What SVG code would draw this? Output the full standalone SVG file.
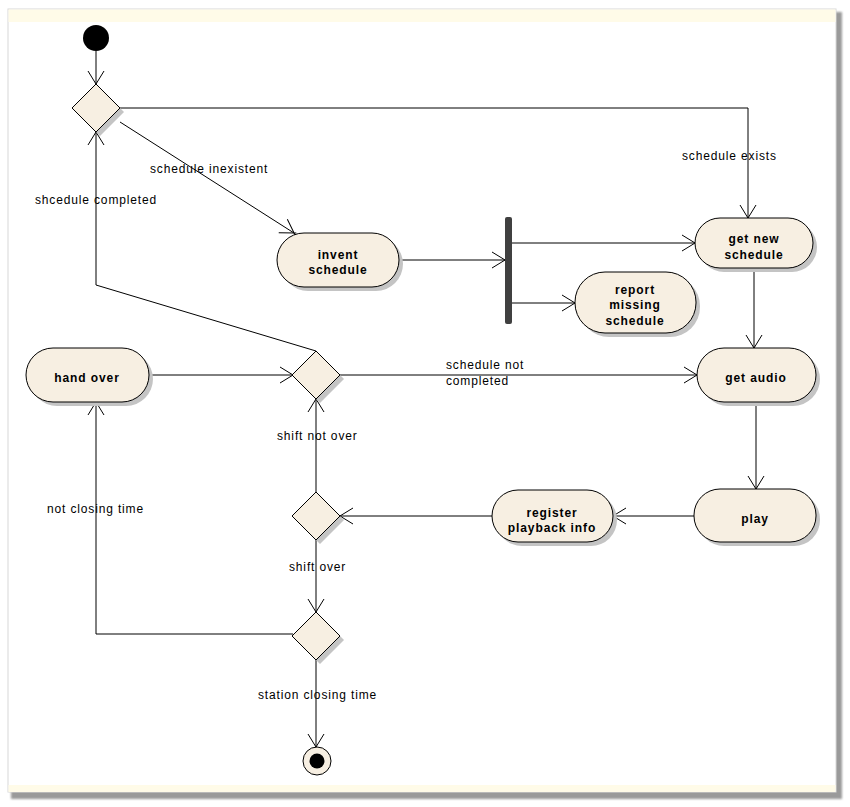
<svg xmlns="http://www.w3.org/2000/svg" width="850" height="807" viewBox="0 0 850 807">
<style>
.node{fill:#f7efe2;stroke:#000;stroke-width:1}
.shadow{fill:#c4c4c4;stroke:none}
.edge{fill:none;stroke:#000;stroke-width:1}
.lbl{font-family:"Liberation Sans",Arial,sans-serif;font-size:12px;letter-spacing:0.85px;fill:#000}
.nt{font-family:"Liberation Sans",Arial,sans-serif;font-size:12px;font-weight:bold;letter-spacing:0.9px;fill:#000;text-anchor:middle}
</style>
<defs>
<marker id="arr" markerUnits="userSpaceOnUse" viewBox="-15 -10 19 20" refX="0" refY="0" markerWidth="19" markerHeight="20" orient="auto">
<path d="M-13,-8 L2,1.2 M-13,8 L2,-1.2" fill="none" stroke="#000" stroke-width="1"/>
</marker>
<filter id="blur" x="-10%" y="-10%" width="130%" height="130%"><feGaussianBlur stdDeviation="1"/></filter>
</defs>
<rect x="0" y="0" width="850" height="807" fill="#ffffff"/>
<g id="frame">
<rect x="11" y="12" width="831" height="787" fill="#9a9a9a" filter="url(#blur)"/>
<rect x="8" y="9" width="828" height="783" fill="#ffffff" stroke="#d8d8d8" stroke-width="1"/>
<rect x="8.5" y="9.5" width="827" height="12.5" fill="#fffbe8"/>
<rect x="8.5" y="785" width="827" height="7" fill="#fffbe8"/>
</g>
<g id="connectors">
<line class="edge" x1="96" y1="51" x2="96" y2="84" marker-end="url(#arr)"/>
<polyline class="edge" points="120,108 748,108 748,218" marker-end="url(#arr)"/>
<line class="edge" x1="120" y1="122" x2="294" y2="233" marker-end="url(#arr)"/>
<polyline class="edge" points="316,351 96,285 96,132" marker-end="url(#arr)"/>
<line class="edge" x1="399" y1="260" x2="505" y2="260" marker-end="url(#arr)"/>
<line class="edge" x1="512" y1="243" x2="695" y2="243" marker-end="url(#arr)"/>
<line class="edge" x1="512" y1="303" x2="575" y2="303" marker-end="url(#arr)"/>
<line class="edge" x1="754" y1="268" x2="754" y2="348" marker-end="url(#arr)"/>
<line class="edge" x1="340" y1="375" x2="697" y2="375" marker-end="url(#arr)"/>
<line class="edge" x1="756" y1="402" x2="756" y2="489" marker-end="url(#arr)"/>
<line class="edge" x1="694" y1="516" x2="613" y2="516" marker-end="url(#arr)"/>
<line class="edge" x1="492" y1="516" x2="340" y2="516" marker-end="url(#arr)"/>
<line class="edge" x1="149" y1="375" x2="293" y2="375" marker-end="url(#arr)"/>
<line class="edge" x1="316" y1="492" x2="316" y2="399" marker-end="url(#arr)"/>
<line class="edge" x1="316" y1="540" x2="316" y2="612" marker-end="url(#arr)"/>
<polyline class="edge" points="293,634 96,634 96,402" marker-end="url(#arr)"/>
<line class="edge" x1="316" y1="660" x2="316" y2="747" marker-end="url(#arr)"/>
<text class="lbl" x="150" y="173">schedule inexistent</text>
<text class="lbl" x="35" y="204">shcedule completed</text>
<text class="lbl" x="682" y="160">schedule exists</text>
<text class="lbl" x="446" y="369">schedule not</text>
<text class="lbl" x="446" y="385">completed</text>
<text class="lbl" x="277" y="440">shift not over</text>
<text class="lbl" x="47" y="513">not closing time</text>
<text class="lbl" x="289" y="571">shift over</text>
<text class="lbl" x="258" y="699">station closing time</text>
</g>
<g id="start">
<circle cx="96" cy="38" r="13" fill="#000"/>
</g>
<g id="decision1">
<polygon class="shadow" points="100,88 124,112 100,136 76,112"/>
<polygon class="node" points="96,84 120,108 96,132 72,108"/>
</g>
<g id="invent-schedule">
<rect class="shadow" x="281" y="237" width="122" height="54" rx="27"/>
<rect class="node" x="277" y="233" width="122" height="54" rx="27"/>
<text class="nt" x="338" y="259">invent</text>
<text class="nt" x="338" y="274">schedule</text>
</g>
<g id="fork">
<rect x="505" y="217" width="7" height="107" rx="2" fill="#404040"/>
</g>
<g id="get-new-schedule">
<rect class="shadow" x="699" y="222" width="118" height="50" rx="25"/>
<rect class="node" x="695" y="218" width="118" height="50" rx="25"/>
<text class="nt" x="754" y="243">get new</text>
<text class="nt" x="754" y="259">schedule</text>
</g>
<g id="report-missing-schedule">
<rect class="shadow" x="579" y="276" width="121" height="61" rx="30"/>
<rect class="node" x="575" y="272" width="121" height="61" rx="30"/>
<text class="nt" x="635" y="294">report</text>
<text class="nt" x="635" y="309">missing</text>
<text class="nt" x="635" y="325">schedule</text>
</g>
<g id="hand-over">
<rect class="shadow" x="30" y="352" width="123" height="54" rx="27"/>
<rect class="node" x="26" y="348" width="123" height="54" rx="27"/>
<text class="nt" x="87" y="382">hand over</text>
</g>
<g id="decision2">
<polygon class="shadow" points="320,355 344,379 320,403 296,379"/>
<polygon class="node" points="316,351 340,375 316,399 292,375"/>
</g>
<g id="get-audio">
<rect class="shadow" x="701" y="352" width="119" height="54" rx="27"/>
<rect class="node" x="697" y="348" width="119" height="54" rx="27"/>
<text class="nt" x="756" y="382">get audio</text>
</g>
<g id="play">
<rect class="shadow" x="698" y="493" width="122" height="53" rx="26"/>
<rect class="node" x="694" y="489" width="122" height="53" rx="26"/>
<text class="nt" x="755" y="523">play</text>
</g>
<g id="register-playback-info">
<rect class="shadow" x="496" y="494" width="121" height="52" rx="26"/>
<rect class="node" x="492" y="490" width="121" height="52" rx="26"/>
<text class="nt" x="552" y="517">register</text>
<text class="nt" x="552" y="532">playback info</text>
</g>
<g id="decision3">
<polygon class="shadow" points="320,496 344,520 320,544 296,520"/>
<polygon class="node" points="316,492 340,516 316,540 292,516"/>
</g>
<g id="decision4">
<polygon class="shadow" points="320,616 344,640 320,664 296,640"/>
<polygon class="node" points="316,612 340,636 316,660 292,636"/>
</g>
<g id="final">
<circle cx="317" cy="761" r="14" fill="#f7efe2" stroke="#000" stroke-width="1"/>
<circle cx="317" cy="761" r="7.5" fill="#000"/>
</g>
</svg>
